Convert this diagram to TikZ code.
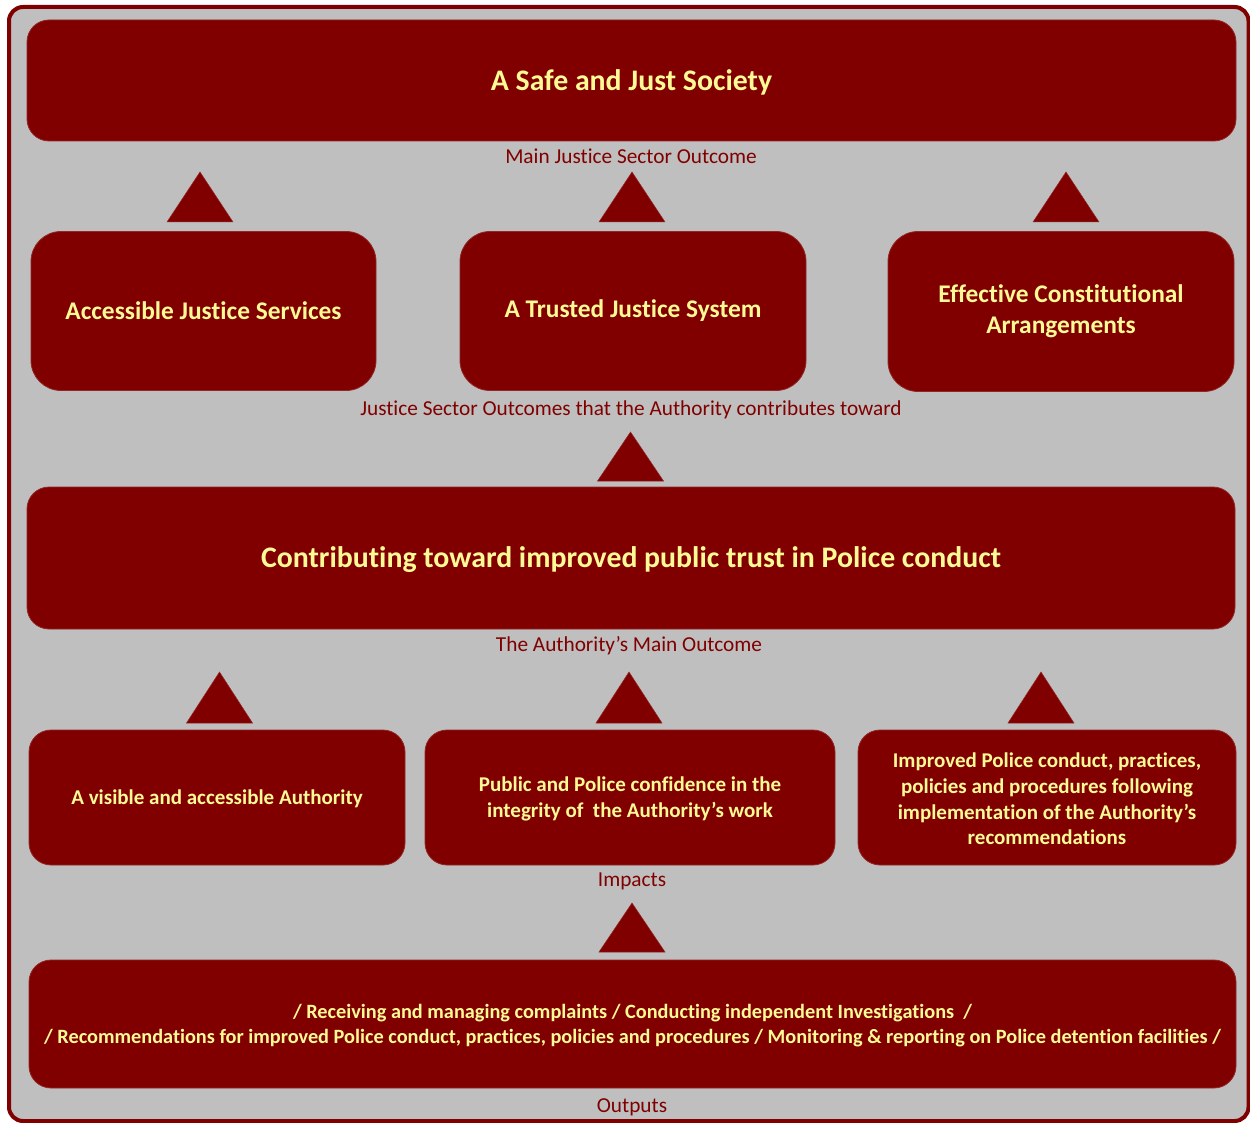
\documentclass[tikz,border=0pt]{standalone}
\usepackage{fontspec}
\setmainfont[Ligatures=NoCommon]{Carlito}
\definecolor{maroon}{RGB}{128,0,0}
\definecolor{panel}{RGB}{191,191,191}
\definecolor{lightyellow}{RGB}{255,250,150}
\newcommand\fsz[1]{\fontsize{#1}{1.22\dimexpr#1pt\relax}\selectfont}
\tikzset{
  box/.style={draw=maroon!85!white, line width=0.8pt, fill=maroon, rounded corners=22pt,
    text=lightyellow, font=\bfseries, align=center, inner sep=0pt},
  bigbox/.style={box, rounded corners=30pt},
  boxtext/.style={text=lightyellow, align=center, inner sep=0pt},
  tag/.style={text=maroon, inner sep=0pt, font=\fsz{21.3}},
  uptri/.style={fill=maroon, draw=maroon!85!white, line width=0.5pt}
}
% upward triangle: centre x, top y, bottom y
\newcommand\uparrowtri[3]{\path[uptri] (#1-33,#3) -- (#1,#2) -- (#1+33,#3) -- cycle;}
\begin{document}
\begin{tikzpicture}[x=1pt,y=-1pt]
\useasboundingbox (0,0) rectangle (1250,1123);
\begin{scope}
\clip (0,0) rectangle (1250,1123);
\draw[maroon, line width=4pt, fill=panel, rounded corners=14pt] (9,7) rectangle (1248.5,1121);
\end{scope}

% level 1: main justice sector outcome
\node[box, minimum width=1209, minimum height=121] (society) at (631.5,80.5) {};
\node[boxtext, font=\bfseries\fsz{29.8}] (societytxt) at (631.5,82.5) {A Safe and Just Society};
\node[tag] (lblmain) at (631,156) {Main Justice Sector Outcome};

\uparrowtri{200}{172}{222}
\uparrowtri{632}{172}{222}
\uparrowtri{1066}{172}{222}

% level 2: justice sector outcomes
\node[bigbox, minimum width=345, minimum height=159, font=\bfseries\fsz{25.4}] (access) at (203.5,311) {Accessible Justice Services};
\node[bigbox, minimum width=346, minimum height=159, font=\bfseries\fsz{25.4}] (trusted) at (633,311) {A Trusted Justice System};
\node[bigbox, minimum width=346, minimum height=160, font=\bfseries\fsz{25.4}] (constit) at (1061,311.5) {Effective Constitutional\\Arrangements};
\node[tag] (lblsector) at (631,410) {Justice Sector Outcomes that the Authority contributes toward};

\uparrowtri{630.5}{432}{481}

% level 3: the Authority's main outcome
\node[box, minimum width=1208, minimum height=142] (trust) at (631,558) {};
\node[boxtext, font=\bfseries\fsz{29.8}] (trusttxt) at (631,560) {Contributing toward improved public trust in Police conduct};
\node[tag] (lblauth) at (629,646) {The Authority’s Main Outcome};

\uparrowtri{219.5}{672}{723}
\uparrowtri{629}{672}{723}
\uparrowtri{1041}{672}{723}

% level 4: impacts
\node[box, minimum width=376, minimum height=135] (visible) at (217,797.5) {};
\node[boxtext, font=\bfseries\fsz{21}] (visibletxt) at (217,799) {A visible and accessible Authority};
\node[box, minimum width=410, minimum height=135] (confidence) at (630,797.5) {};
\node[boxtext, font=\bfseries\fsz{21}] (confidencetxt) at (630,799) {Public and Police confidence in the\\integrity of~ the Authority’s work};
\node[box, minimum width=378, minimum height=135] (improved) at (1047,797.5) {};
\node[boxtext, font=\bfseries\fsz{21}] (improvedtxt) at (1047,799) {Improved Police conduct, practices,\\policies and procedures following\\implementation of the Authority’s\\recommendations};
\node[tag] (lblimpact) at (632,881) {Impacts};

\uparrowtri{632}{903}{952}

% level 5: outputs
\node[box, minimum width=1207, minimum height=128] (outputs) at (632.5,1024) {};
\node[boxtext, font=\bfseries\fsz{20.3}] (outputstxt) at (632.5,1025.5) {/ Receiving and managing complaints / Conducting independent Investigations~ /\\/ Recommendations for improved Police conduct, practices, policies and procedures / Monitoring \& reporting on Police detention facilities /};
\node[tag] (lbloutput) at (632,1107) {Outputs};
\end{tikzpicture}
\end{document}
